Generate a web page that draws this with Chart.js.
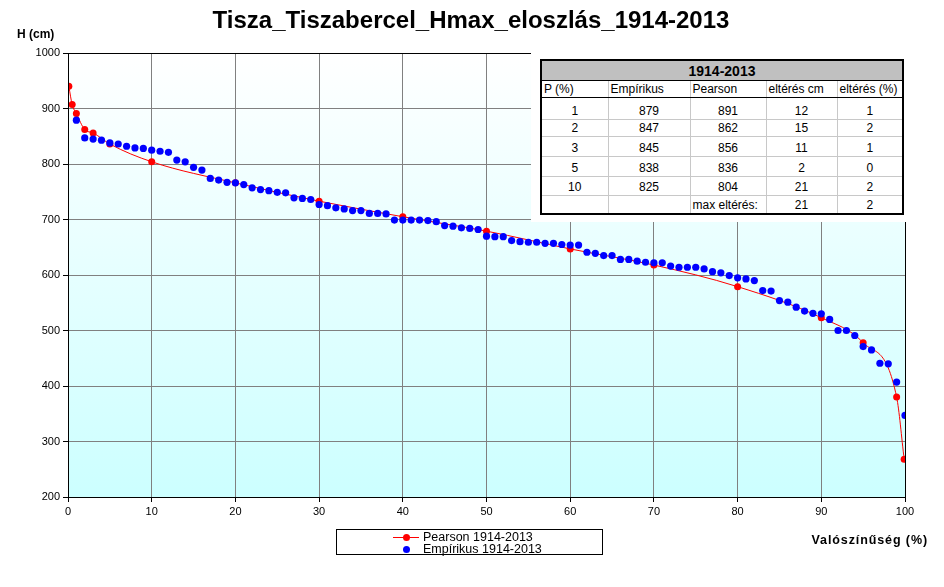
<!DOCTYPE html>
<html>
<head>
<meta charset="utf-8">
<script src="https://cdn.jsdelivr.net/npm/chart.js"></script>
<style>
body { margin: 0; background: #fff; }
#wrap { position: relative; width: 944px; height: 587px; background: #fff; font-family: "Liberation Sans", Arial, sans-serif; }
#myChart { position: absolute; left: 0; top: 0; }
#title { position: absolute; left: 0; top: 8px; width: 942px; text-align: center; font-size: 24px; line-height: 24px; font-weight: bold; }
#ytitle { position: absolute; left: 17px; top: 28px; font-size: 12px; line-height: 12px; font-weight: bold; }
#xtitle { position: absolute; right: 16px; top: 534px; font-size: 12.5px; line-height: 12px; font-weight: bold; letter-spacing: 0.9px; }
#tablebox { position: absolute; left: 531px; top: 53px; width: 379px; height: 169px; background: #fff; }
#stat { position: absolute; left: 9px; top: 6px; border-collapse: collapse; border: 2px solid #000; font-size: 12px; table-layout: fixed; }
#stat td { padding: 0 2px; border-left: 1px solid #c8c8c8; border-top: 1px solid #c8c8c8; white-space: nowrap; overflow: hidden; }
#stat td.c { text-align: center; vertical-align: bottom; padding-bottom: 1px; }
#stat tr.head td { background: #c0c0c0; text-align: center; font-weight: bold; font-size: 14px; height: 19px; border-bottom: 1px solid #000; }
#stat tr.cols td { height: 16px; border-bottom: 1px solid #000; }
#legend { position: absolute; left: 336px; top: 529px; width: 265px; height: 24px; border: 1px solid #000; font-size: 12.5px; }
.lrow { position: absolute; left: 0; height: 12px; line-height: 12px; }
.lline { position: absolute; left: 56px; width: 26px; border-top: 1px solid #ff0000; }
.ldot { position: absolute; left: 66px; width: 7px; height: 7px; border-radius: 50%; }
.ltext { position: absolute; left: 86px; white-space: nowrap; }
</style>
</head>
<body>
<div id="wrap">
<canvas id="myChart" width="944" height="587"></canvas>
<div id="title">Tisza_Tiszabercel_Hmax_eloszlás_1914-2013</div>
<div id="ytitle">H (cm)</div>
<div id="xtitle">Valószínűség (%)</div>
<div id="tablebox"><table id="stat"></table></div>
<div id="legend"></div>
</div>
<script>
// Pearson curve (red)
let pearsonP = [0.1, 0.5, 1, 2, 3, 5, 10, 20, 30, 40, 50, 60, 70, 80, 90, 95, 99, 99.9];
let pearsonH = [940, 907, 891, 862, 856, 836, 804, 766, 733, 705, 679, 647, 618, 579, 523, 478, 380, 268];

// empirical points (blue), 1914-2013
let empP = [1, 2, 3, 4, 5, 6, 7, 8, 9, 10,
  11, 12, 13, 14, 15, 16, 17, 18, 19, 20,
  21, 22, 23, 24, 25, 26, 27, 28, 29, 30,
  31, 32, 33, 34, 35, 36, 37, 38, 39, 40,
  41, 42, 43, 44, 45, 46, 47, 48, 49, 50,
  51, 52, 53, 54, 55, 56, 57, 58, 59, 60,
  61, 62, 63, 64, 65, 66, 67, 68, 69, 70,
  71, 72, 73, 74, 75, 76, 77, 78, 79, 80,
  81, 82, 83, 84, 85, 86, 87, 88, 89, 90,
  91, 92, 93, 94, 95, 96, 97, 98, 99, 100];
let empH = [879, 847, 845, 843, 838, 836, 832, 829, 828, 825,
  823, 821, 807, 804, 794, 789, 774, 771, 767, 766,
  763, 757, 754, 752, 749, 748, 739, 738, 736, 727,
  725, 721, 719, 716, 716, 711, 711, 710, 699, 699,
  699, 699, 698, 696, 689, 688, 685, 684, 682, 670,
  669, 669, 662, 660, 659, 659, 657, 657, 655, 654,
  654, 641, 639, 635, 635, 628, 628, 625, 623, 622,
  622, 616, 614, 614, 614, 611, 606, 604, 599, 595,
  593, 590, 572, 571, 554, 551, 542, 535, 531, 530,
  520, 500, 500, 491, 471, 465, 441, 440, 407, 347];

// table
let tableHead = ["P (%)", "Empírikus", "Pearson", "eltérés cm", "eltérés (%)"];
let tableP = ["1", "2", "3", "5", "10"];
let tableEmp = ["879", "847", "845", "838", "825"];
let tablePearson = ["891", "862", "856", "836", "804"];
let tableDiffCm = ["12", "15", "11", "2", "21"];
let tableDiffPct = ["1", "2", "1", "0", "2"];
let maxDiffCm = "21";
let maxDiffPct = "2";

let colW = [67, 82, 76, 71, 66];
let rowH = [22, 17, 20, 20, 19, 18];

let t = document.getElementById("stat");
let html = "<colgroup>";
for (let i = 0; i < colW.length; i++) html += "<col style='width:" + colW[i] + "px'>";
html += "</colgroup>";
html += "<tr class='head'><td colspan='5'>1914-2013</td></tr>";
html += "<tr class='cols'>";
for (let i = 0; i < tableHead.length; i++) html += "<td>" + tableHead[i] + "</td>";
html += "</tr>";
for (let i = 0; i < tableP.length; i++) {
  html += "<tr style='height:" + rowH[i] + "px'>";
  html += "<td class='c'>" + tableP[i] + "</td><td class='c'>" + tableEmp[i] + "</td><td class='c'>" + tablePearson[i] + "</td><td class='c'>" + tableDiffCm[i] + "</td><td class='c'>" + tableDiffPct[i] + "</td></tr>";
}
html += "<tr style='height:" + rowH[5] + "px'><td></td><td></td><td style='vertical-align:bottom;padding-bottom:1px'>max eltérés:</td><td class='c'>" + maxDiffCm + "</td><td class='c'>" + maxDiffPct + "</td></tr>";
t.innerHTML = html;

let leg = document.getElementById("legend");
leg.innerHTML =
  "<div class='lrow' style='top:1px;width:100%'><div class='lline' style='top:6px'></div><div class='ldot' style='top:3px;background:#ff0000'></div><div class='ltext'>Pearson 1914-2013</div></div>" +
  "<div class='lrow' style='top:13px;width:100%'><div class='ldot' style='top:3px;background:#0000ff'></div><div class='ltext'>Empírikus 1914-2013</div></div>";

let pearsonData = pearsonP.map(function (p, i) { return { x: p, y: pearsonH[i] }; });
let empData = empP.map(function (p, i) { return { x: p, y: empH[i] }; });

let plotBg = {
  id: "plotBg",
  beforeDraw: function (chart) {
    let a = chart.chartArea;
    let ctx = chart.ctx;
    let g = ctx.createLinearGradient(0, a.top, 0, a.bottom);
    g.addColorStop(0, "#ffffff");
    g.addColorStop(1, "#ccffff");
    ctx.save();
    ctx.fillStyle = g;
    ctx.fillRect(a.left, a.top, a.right - a.left, a.bottom - a.top);
    ctx.restore();
  },
  afterDraw: function (chart) {
    let a = chart.chartArea;
    let ctx = chart.ctx;
    ctx.save();
    ctx.strokeStyle = "#000";
    ctx.lineWidth = 1;
    ctx.strokeRect(Math.round(a.left) + 0.5, Math.round(a.top) + 0.5, Math.round(a.right - a.left), Math.round(a.bottom - a.top));
    ctx.restore();
  }
};

let tickFont = { family: "Liberation Sans", size: 11 };

new Chart("myChart", {
  type: "scatter",
  data: {
    datasets: [{
      label: "Empírikus 1914-2013",
      data: empData,
      showLine: false,
      pointRadius: 3.6,
      pointBackgroundColor: "#0000ff",
      pointBorderColor: "#0000ff",
      pointBorderWidth: 0
    }, {
      label: "Pearson 1914-2013",
      data: pearsonData,
      showLine: true,
      borderColor: "#ff0000",
      borderWidth: 1,
      cubicInterpolationMode: "monotone",
      pointRadius: 3.5,
      pointBackgroundColor: "#ff0000",
      pointBorderColor: "#ff0000",
      pointBorderWidth: 0
    }]
  },
  options: {
    responsive: false,
    animation: false,
    layout: { padding: { left: 0, right: 39, top: 53, bottom: 65 } },
    plugins: {
      legend: { display: false },
      title: { display: false },
      tooltip: { enabled: false }
    },
    scales: {
      x: {
        type: "linear",
        min: 0,
        max: 100,
        ticks: { stepSize: 10, color: "#000", font: tickFont, padding: 3, maxRotation: 0 },
        grid: { color: "#808080", tickColor: "#000", tickLength: 5, lineWidth: 1 },
        border: { color: "#000" },
        afterFit: function (s) { s.height = 25; }
      },
      y: {
        type: "linear",
        min: 200,
        max: 1000,
        ticks: { stepSize: 100, color: "#000", font: tickFont, padding: 3, callback: function (v) { return String(v); } },
        grid: { color: "#808080", tickColor: "#000", tickLength: 5, lineWidth: 1 },
        border: { color: "#000" },
        afterFit: function (s) { s.width = 68; }
      }
    }
  },
  plugins: [plotBg]
});
</script>
</body>
</html>
